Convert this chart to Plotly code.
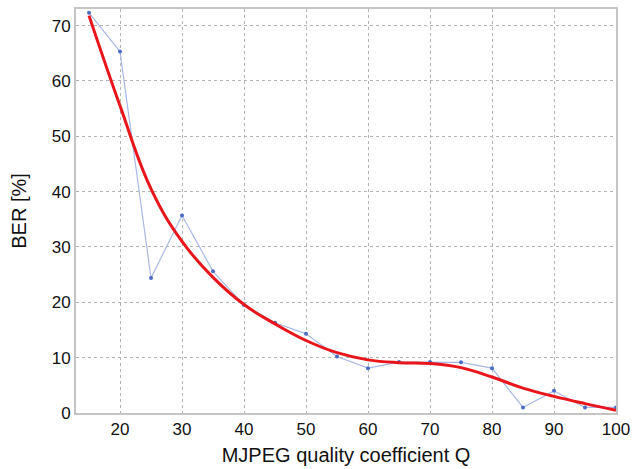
import plotly.graph_objects as go

q = [15, 20, 25, 30, 35, 40, 45, 50, 55, 60, 65, 70, 75, 80, 85, 90, 95, 100]
ber = [72.3, 65.3, 24.4, 35.7, 25.6, 19.5, 16.3, 14.3, 10.2, 8.1, 9.2, 9.2, 9.15, 8.1, 1.0, 4.0, 1.0, 1.0]
ber_fit = [71.8, 55.5, 40.5, 31.0, 24.5, 19.6, 16.1, 13.1, 10.9, 9.6, 9.1, 8.95, 8.2, 6.5, 4.5, 3.0, 1.7, 0.5]

x_ticks = [20, 30, 40, 50, 60, 70, 80, 90, 100]
y_ticks = [0, 10, 20, 30, 40, 50, 60, 70]

fig = go.Figure()
fig.add_trace(go.Scatter(
    x=q, y=ber, mode="lines+markers",
    line=dict(color="#a9b8e6", width=1.2),
    marker=dict(color="#4a6cc4", size=4),
    showlegend=False,
))
fig.add_trace(go.Scatter(
    x=q, y=ber_fit, mode="lines",
    line=dict(color="#e8151b", width=3, shape="spline", smoothing=1.2),
    showlegend=False,
))

font = dict(family="Liberation Sans, Arial, sans-serif", size=17, color="#111111")
fig.update_layout(
    width=633, height=469,
    margin=dict(l=76, r=17, t=9, b=56),
    paper_bgcolor="white", plot_bgcolor="white",
    font=font,
)
fig.update_xaxes(
    range=[12.9, 100], tickvals=x_ticks, ticks="", automargin=False,
    showgrid=True, gridcolor="#b4b4b4", griddash="dot", gridwidth=1,
    showline=True, linecolor="#c4c4c4", linewidth=2, mirror=True,
    zeroline=False,
    title=dict(text="MJPEG quality coefficient Q", standoff=10),
)
fig.update_yaxes(
    range=[0, 73], tickvals=y_ticks, ticks="", automargin=False,
    showgrid=True, gridcolor="#b4b4b4", griddash="dot", gridwidth=1,
    showline=True, linecolor="#c4c4c4", linewidth=2, mirror=True,
    zeroline=False,
    title=dict(text="BER [%]", standoff=20),
)
fig.write_html("out.html")
